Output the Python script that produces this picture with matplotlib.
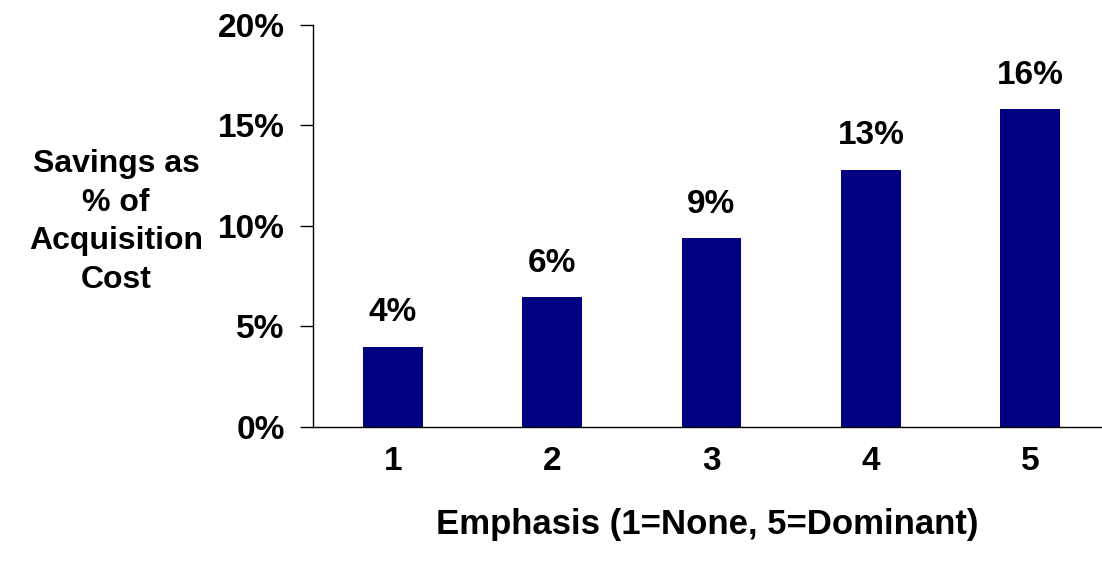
import matplotlib.pyplot as plt

# data
emphasis = [1, 2, 3, 4, 5]
savings = [4.0, 6.45, 9.4, 12.8, 15.8]
bar_labels = ['4%', '6%', '9%', '13%', '16%']
y_ticks = [0, 5, 10, 15, 20]
y_tick_labels = ['0%', '5%', '10%', '15%', '20%']

plt.rcParams['font.family'] = ['Liberation Sans', 'DejaVu Sans']
plt.rcParams['font.weight'] = 'bold'
fs = 24

fig = plt.figure(figsize=(11.02, 5.64), dpi=100)
ax = fig.add_axes([313 / 1102, 1 - 427 / 564, 1 - 313 / 1102, (427 - 24.7) / 564])

ax.bar(emphasis, savings, width=0.376, color='#000080')
for x, v, lab in zip(emphasis, savings, bar_labels):
    ax.annotate(lab, (x, v), xytext=(0, 13), textcoords='offset points',
                ha='center', va='bottom', fontsize=fs, fontweight='bold')

ax.set_xlim(0.5, 5.45)
ax.set_ylim(0, 20)
ax.set_yticks(y_ticks)
ax.set_yticklabels(y_tick_labels, fontsize=fs, fontweight='bold')
ax.set_xticks(emphasis)
ax.set_xticklabels([str(e) for e in emphasis], fontsize=fs, fontweight='bold')
ax.tick_params(axis='y', length=9.4, width=1, pad=11)
ax.tick_params(axis='x', length=0, pad=14)

for s in ['top', 'right']:
    ax.spines[s].set_visible(False)
ax.spines['left'].set_linewidth(1)
ax.spines['bottom'].set_linewidth(1)

ax.set_xlabel('Emphasis (1=None, 5=Dominant)', fontsize=25, fontweight='bold', labelpad=22)
fig.text(116 / 1102, 1 - 222 / 564, 'Savings as\n% of\nAcquisition\nCost',
         ha='center', va='center', fontsize=23, fontweight='bold', linespacing=1.39)

fig.savefig('out.png', dpi=100)
